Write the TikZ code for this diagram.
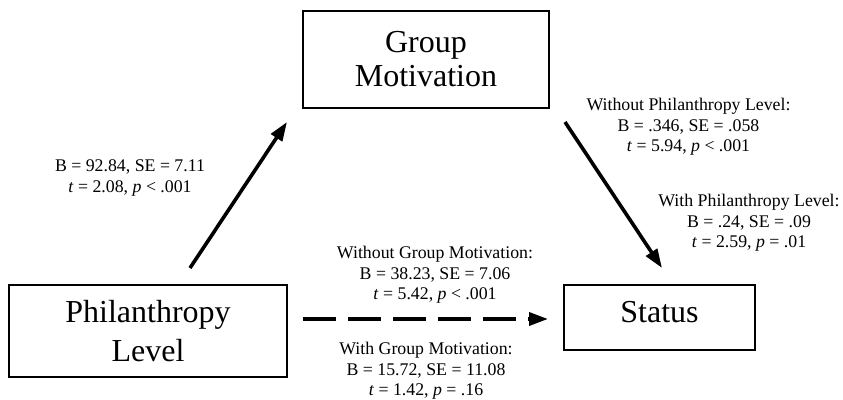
\documentclass[tikz,border=0pt]{standalone}
\usepackage{fontspec}
\setmainfont{Liberation Serif}
\usetikzlibrary{arrows.meta}
\tikzset{
  varbox/.style={draw, line width=1.3pt, align=center, inner sep=0pt},
  estlabel/.style={align=center, inner sep=0pt, font=\fontsize{17.8}{20.5}\selectfont},
  patharrow/.style={line width=3.6pt, -{Triangle[length=19pt,width=13pt]}},
}
\begin{document}
\begin{tikzpicture}[x=1pt,y=1pt,yscale=-1]
    \useasboundingbox (0,0) rectangle (843,399);
    %Shape: Rectangle [Philanthropy Level]
    \node[varbox, minimum width=278pt, minimum height=92pt, font=\fontsize{32}{39}\selectfont] (phil) at (148,331) {Philanthropy\\Level};
    %Shape: Rectangle [Group Motivation]
    \node[varbox, minimum width=246pt, minimum height=97pt, font=\fontsize{32}{34}\selectfont] (group) at (426,59.5) {Group\\Motivation};
    %Shape: Rectangle [Status]
    \node[varbox, minimum width=191pt, minimum height=65pt, text depth=11pt, font=\fontsize{32}{39}\selectfont] (status) at (659.5,317.5) {Status};

    % Arrow ends
    \coordinate (phil-out) at (190,268);
    \coordinate (group-in) at (287,122);
    \coordinate (group-out) at (565,122);
    \coordinate (status-in) at (662,268);
    \coordinate (phil-right) at (303,319);
    \coordinate (status-left) at (548,319);

    % Arrows
    \draw[patharrow] (phil-out) -- (group-in);
    \draw[patharrow] (group-out) -- (status-in);
    \draw[patharrow, dash pattern=on 33pt off 12pt] (phil-right) -- (status-left);

    % Text Node
    \node[estlabel] (lab-a) at (130,178) {B = 92.84, SE = 7.11\\\textit{t} = 2.08, \textit{p} < .001};
    % Text Node
    \node[estlabel] (lab-b-without) at (688.5,127) {Without Philanthropy Level:\\B = .346, SE = .058\\\textit{t} = 5.94, \textit{p} < .001};
    % Text Node
    \node[estlabel] (lab-b-with) at (749,223) {With Philanthropy Level:\\B = .24, SE = .09\\\textit{t} = 2.59, \textit{p} = .01};
    % Text Node
    \node[estlabel] (lab-c-without) at (435,275) {Without Group Motivation:\\B = 38.23, SE = 7.06\\\textit{t} = 5.42, \textit{p} < .001};
    % Text Node
    \node[estlabel] (lab-c-with) at (426,371) {With Group Motivation:\\B = 15.72, SE = 11.08\\\textit{t} = 1.42, \textit{p} = .16};
\end{tikzpicture}
\end{document}
